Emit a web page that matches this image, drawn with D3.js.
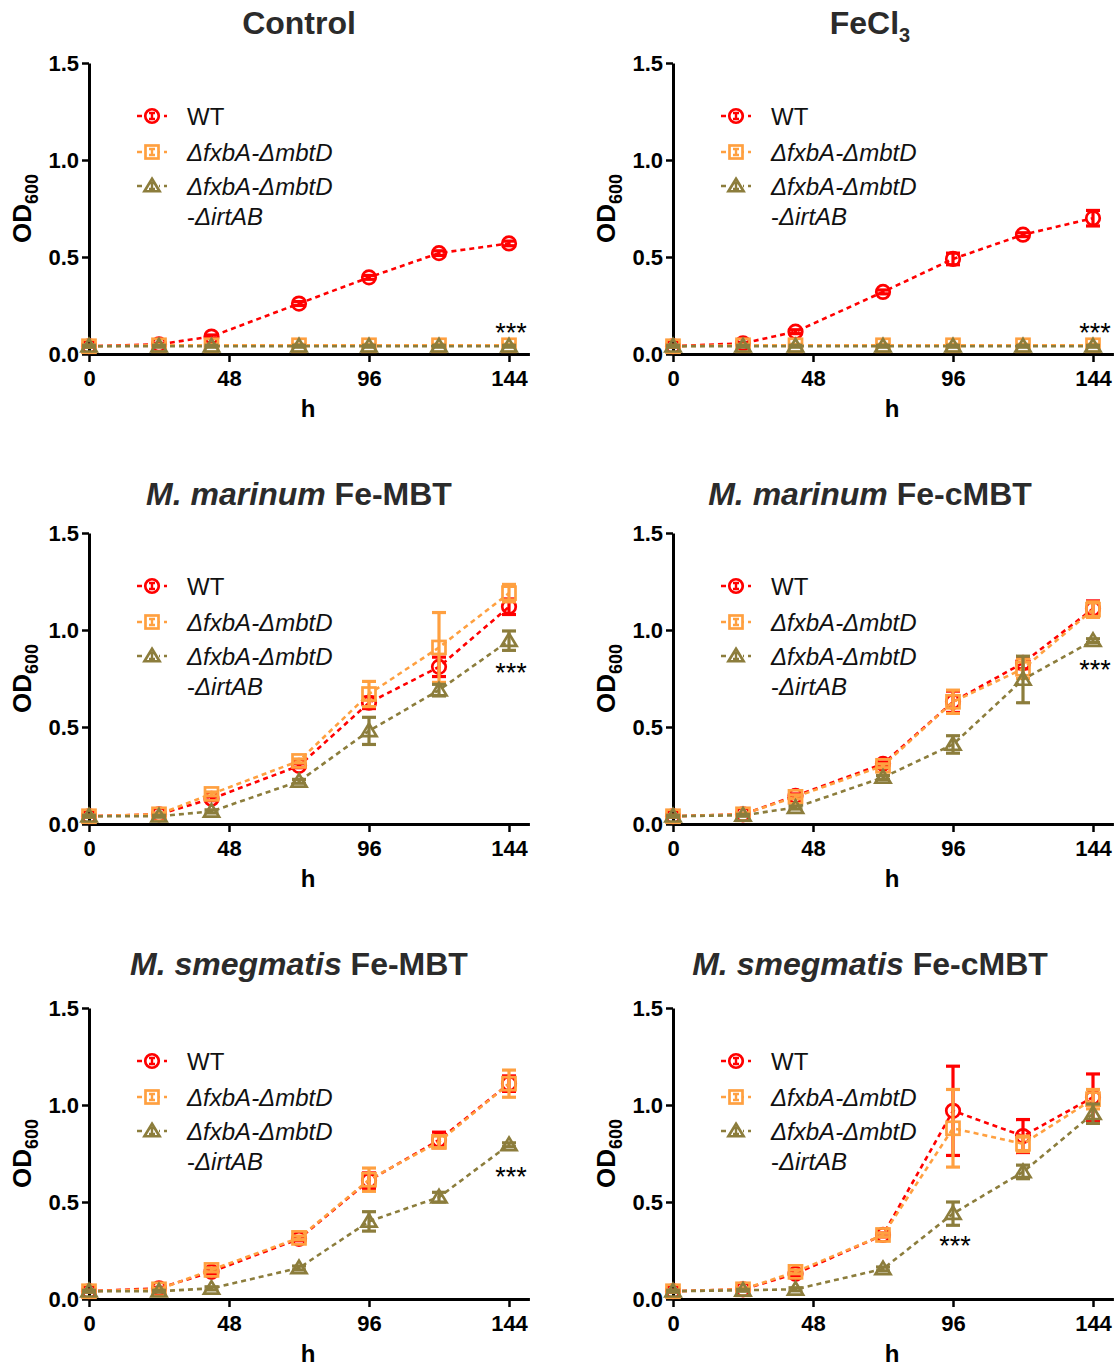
<!DOCTYPE html>
<html>
<head>
<meta charset="utf-8">
<script src="https://cdn.jsdelivr.net/npm/d3@7"></script>
<style>
  body { margin: 0; background: #fff; }
  svg text { font-family: "Liberation Sans", Arial, Helvetica, sans-serif; }
</style>
</head>
<body>
<div id="chart"></div>
<script>
// sampling times (h)
var hours = [0, 24, 42, 72, 96, 120, 144];
var xTicks = [0, 48, 96, 144];
var yTicks = [0, 0.5, 1.0, 1.5];
var seriesNames = ["WT", "ΔfxbA-ΔmbtD", "ΔfxbA-ΔmbtD-ΔirtAB"];

// Control
var ctrlWT    = [0.04, 0.05, 0.09, 0.26, 0.395, 0.52, 0.57];
var ctrlWTsd  = [0.005, 0.005, 0.008, 0.01, 0.01, 0.012, 0.012];
var ctrlDF    = [0.04, 0.045, 0.045, 0.045, 0.045, 0.045, 0.045];
var ctrlDFsd  = [0.005, 0.005, 0.005, 0.005, 0.005, 0.005, 0.005];
var ctrlTR    = [0.04, 0.04, 0.04, 0.04, 0.04, 0.04, 0.04];
var ctrlTRsd  = [0.005, 0.005, 0.005, 0.005, 0.005, 0.005, 0.005];

// FeCl3
var fecWT     = [0.04, 0.055, 0.115, 0.32, 0.49, 0.615, 0.70];
var fecWTsd   = [0.005, 0.005, 0.01, 0.01, 0.03, 0.01, 0.04];
var fecDF     = [0.04, 0.045, 0.045, 0.045, 0.045, 0.045, 0.045];
var fecDFsd   = [0.005, 0.005, 0.005, 0.005, 0.005, 0.005, 0.005];
var fecTR     = [0.04, 0.04, 0.04, 0.04, 0.04, 0.04, 0.04];
var fecTRsd   = [0.005, 0.005, 0.005, 0.005, 0.005, 0.005, 0.005];

// M. marinum Fe-MBT
var mmMbtWT   = [0.04, 0.05, 0.13, 0.30, 0.625, 0.81, 1.12];
var mmMbtWTsd = [0.005, 0.005, 0.01, 0.01, 0.03, 0.05, 0.04];
var mmMbtDF   = [0.04, 0.05, 0.155, 0.325, 0.67, 0.91, 1.19];
var mmMbtDFsd = [0.005, 0.005, 0.01, 0.01, 0.065, 0.18, 0.045];
var mmMbtTR   = [0.04, 0.04, 0.065, 0.22, 0.48, 0.69, 0.945];
var mmMbtTRsd = [0.005, 0.005, 0.008, 0.01, 0.07, 0.03, 0.05];

// M. marinum Fe-cMBT
var mmCmbWT   = [0.04, 0.05, 0.145, 0.31, 0.63, 0.83, 1.11];
var mmCmbWTsd = [0.005, 0.005, 0.01, 0.01, 0.055, 0.03, 0.04];
var mmCmbDF   = [0.04, 0.05, 0.14, 0.30, 0.63, 0.80, 1.105];
var mmCmbDFsd = [0.005, 0.005, 0.01, 0.01, 0.06, 0.05, 0.04];
var mmCmbTR   = [0.04, 0.045, 0.085, 0.24, 0.41, 0.745, 0.945];
var mmCmbTRsd = [0.005, 0.005, 0.008, 0.01, 0.045, 0.12, 0.01];

// M. smegmatis Fe-MBT
var msMbtWT   = [0.04, 0.055, 0.14, 0.31, 0.61, 0.82, 1.11];
var msMbtWTsd = [0.005, 0.005, 0.01, 0.01, 0.04, 0.04, 0.04];
var msMbtDF   = [0.04, 0.05, 0.15, 0.315, 0.615, 0.81, 1.11];
var msMbtDFsd = [0.005, 0.005, 0.01, 0.01, 0.06, 0.03, 0.07];
var msMbtTR   = [0.04, 0.04, 0.055, 0.16, 0.40, 0.525, 0.795];
var msMbtTRsd = [0.005, 0.005, 0.008, 0.01, 0.05, 0.025, 0.01];

// M. smegmatis Fe-cMBT
var msCmbWT   = [0.04, 0.05, 0.13, 0.33, 0.97, 0.84, 1.04];
var msCmbWTsd = [0.005, 0.005, 0.01, 0.01, 0.23, 0.085, 0.12];
var msCmbDF   = [0.04, 0.05, 0.14, 0.33, 0.88, 0.80, 1.03];
var msCmbDFsd = [0.005, 0.005, 0.01, 0.01, 0.20, 0.04, 0.05];
var msCmbTR   = [0.04, 0.045, 0.05, 0.155, 0.44, 0.655, 0.955];
var msCmbTRsd = [0.005, 0.005, 0.008, 0.01, 0.06, 0.035, 0.05];

// where the "***" marks sit, [h, OD600]
var starsAt = [[144, 0.14], [144, 0.14], [144, 0.81], [144, 0.825], [144, 0.66], [96, 0.305]];

var colors = ["#ff0000", "#ffa040", "#8c7d3c"];
var shapes = ["circle", "square", "triangle"];

var panels = [
  { title: [["Control", false]], col: 0, row: 0, m: [ctrlWT, ctrlDF, ctrlTR], e: [ctrlWTsd, ctrlDFsd, ctrlTRsd] },
  { title: [["FeCl", false], ["3", false, true]], col: 1, row: 0, m: [fecWT, fecDF, fecTR], e: [fecWTsd, fecDFsd, fecTRsd] },
  { title: [["M. marinum", true], [" Fe-MBT", false]], col: 0, row: 1, m: [mmMbtWT, mmMbtDF, mmMbtTR], e: [mmMbtWTsd, mmMbtDFsd, mmMbtTRsd] },
  { title: [["M. marinum", true], [" Fe-cMBT", false]], col: 1, row: 1, m: [mmCmbWT, mmCmbDF, mmCmbTR], e: [mmCmbWTsd, mmCmbDFsd, mmCmbTRsd] },
  { title: [["M. smegmatis", true], [" Fe-MBT", false]], col: 0, row: 2, m: [msMbtWT, msMbtDF, msMbtTR], e: [msMbtWTsd, msMbtDFsd, msMbtTRsd] },
  { title: [["M. smegmatis", true], [" Fe-cMBT", false]], col: 1, row: 2, m: [msCmbWT, msCmbDF, msCmbTR], e: [msCmbWTsd, msCmbDFsd, msCmbTRsd] }
];

var colLeft = [89, 673];
var titleX = [299, 870];
var rowTop = [63, 533, 1008];
var rowBottom = [354, 824, 1299];
var titleY = [22, 493, 963];

var svg = d3.select("#chart").append("svg")
    .attr("width", 1116)
    .attr("height", 1366);

function marker(g, shape, color, size) {
  if (shape === "circle") {
    g.append("circle").attr("r", size * 0.52)
      .attr("fill", "none").attr("stroke", color).attr("stroke-width", 2.7);
  } else if (shape === "square") {
    g.append("rect").attr("x", -size * 0.5).attr("y", -size * 0.5)
      .attr("width", size).attr("height", size)
      .attr("fill", "none").attr("stroke", color).attr("stroke-width", 2.7);
  } else {
    var h = size * 0.9;
    g.append("path")
      .attr("d", "M0," + (-h * 0.62) + "L" + (size * 0.58) + "," + (h * 0.45) + "L" + (-size * 0.58) + "," + (h * 0.45) + "Z")
      .attr("fill", "none").attr("stroke", color).attr("stroke-width", 2.7)
      .attr("stroke-linejoin", "miter");
  }
}

panels.forEach(function (p, pi) {
  var L = colLeft[p.col], T = rowTop[p.row], B = rowBottom[p.row];
  var x = d3.scaleLinear().domain([0, 151]).range([L, L + 151 * 420 / 144]);
  var y = d3.scaleLinear().domain([0, 1.5]).range([B, T]);
  var g = svg.append("g");

  // title
  var t = g.append("text")
      .attr("x", titleX[p.col]).attr("y", titleY[p.row])
      .attr("dy", "0.36em")
      .attr("text-anchor", "middle")
      .style("font-size", "32px").style("font-weight", "bold")
      .style("fill", "#2b2b2b");
  p.title.forEach(function (part) {
    var s = t.append("tspan").text(part[0]);
    if (part[1]) s.style("font-style", "italic");
    if (part[2]) s.style("font-size", "20px").attr("dy", "8");
  });

  // axes
  var yAxis = g.append("g").attr("transform", "translate(" + L + ",0)")
      .call(d3.axisLeft(y).tickValues(yTicks).tickFormat(d3.format(".1f")).tickSize(7).tickSizeOuter(0).tickPadding(3));
  var xAxis = g.append("g").attr("transform", "translate(0," + B + ")")
      .call(d3.axisBottom(x).tickValues(xTicks).tickSize(8).tickSizeOuter(0).tickPadding(8));
  [yAxis, xAxis].forEach(function (a) {
    a.select(".domain").attr("stroke", "#000").attr("stroke-width", 3);
    a.selectAll(".tick line").attr("stroke", "#000").attr("stroke-width", 2.5);
    a.selectAll(".tick text").style("font-size", "22px").style("font-weight", "bold").attr("fill", "#000");
  });

  // axis titles
  var yl = g.append("text")
      .attr("transform", "translate(" + (L - 58) + "," + ((T + B) / 2) + ") rotate(-90)")
      .attr("text-anchor", "middle")
      .style("font-size", "26px").style("font-weight", "bold");
  yl.append("tspan").text("OD");
  yl.append("tspan").text("600").style("font-size", "18px").attr("dy", "7");

  g.append("text")
      .attr("x", L + 219).attr("y", B + 54).attr("dy", "0.36em")
      .attr("text-anchor", "middle")
      .style("font-size", "24px").style("font-weight", "bold")
      .text("h");

  // series
  var line = d3.line().x(function (d) { return x(d[0]); }).y(function (d) { return y(d[1]); });
  [0, 1, 2].forEach(function (si) {
    var pts = hours.map(function (h, i) { return [h, p.m[si][i], p.e[si][i]]; });
    var c = colors[si];
    g.append("path").datum(pts).attr("d", line)
      .attr("fill", "none").attr("stroke", c).attr("stroke-width", 2.6)
      .attr("stroke-dasharray", "5,4");

    var eb = g.append("g").selectAll("g").data(pts).enter().append("g")
        .attr("stroke", c).attr("stroke-width", 3.2);
    eb.append("line")
      .attr("x1", function (d) { return x(d[0]); }).attr("x2", function (d) { return x(d[0]); })
      .attr("y1", function (d) { return y(d[1] + d[2]); }).attr("y2", function (d) { return y(d[1] - d[2]); });
    eb.append("line")
      .attr("x1", function (d) { return x(d[0]) - 7; }).attr("x2", function (d) { return x(d[0]) + 7; })
      .attr("y1", function (d) { return y(d[1] + d[2]); }).attr("y2", function (d) { return y(d[1] + d[2]); });
    eb.append("line")
      .attr("x1", function (d) { return x(d[0]) - 7; }).attr("x2", function (d) { return x(d[0]) + 7; })
      .attr("y1", function (d) { return y(d[1] - d[2]); }).attr("y2", function (d) { return y(d[1] - d[2]); });

    g.append("g").selectAll("g").data(pts).enter().append("g")
      .attr("transform", function (d) { return "translate(" + x(d[0]) + "," + y(d[1]) + ")"; })
      .each(function () { marker(d3.select(this), shapes[si], c, 13); });
  });

  // significance
  g.append("text")
      .attr("x", x(starsAt[pi][0]) + 2).attr("y", y(starsAt[pi][1]) + 15)
      .attr("text-anchor", "middle")
      .style("font-size", "27px").style("font-weight", "normal")
      .text("***");

  // legend
  var legRows = [T + 53, T + 89, T + 123];
  [0, 1, 2].forEach(function (si) {
    var ly = legRows[si], c = colors[si];
    g.append("line").attr("x1", L + 48).attr("x2", L + 78).attr("y1", ly).attr("y2", ly)
      .attr("stroke", c).attr("stroke-width", 2.6).attr("stroke-dasharray", "5,4");
    var mg = g.append("g").attr("transform", "translate(" + (L + 63) + "," + ly + ")");
    mg.append("rect").attr("x", -7).attr("y", -7).attr("width", 14).attr("height", 14).attr("fill", "#fff");
    mg.append("path").attr("d", "M-3,-3H3M0,-3V3M-3,3H3")
      .attr("stroke", c).attr("stroke-width", 2.4).attr("fill", "none");
    marker(mg, shapes[si], c, 13);
  });
  function legText(yy, parts) {
    var tx = g.append("text").attr("x", L + 98).attr("y", yy).attr("dy", "0.36em")
        .style("font-size", "24px").style("fill", "#111");
    parts.forEach(function (part) {
      var s = tx.append("tspan").text(part[0]);
      if (part[1]) s.style("font-style", "italic");
    });
  }
  legText(legRows[0], [["WT", false]]);
  legText(legRows[1], [["ΔfxbA-ΔmbtD", true]]);
  legText(legRows[2], [["ΔfxbA-ΔmbtD", true]]);
  legText(T + 153, [["-", false], ["ΔirtAB", true]]);
});
</script>
</body>
</html>
